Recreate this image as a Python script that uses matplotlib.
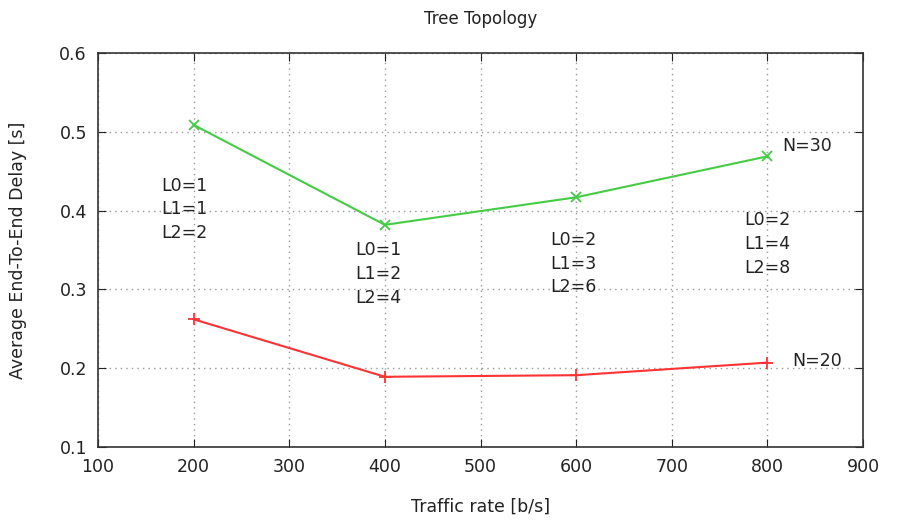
import matplotlib
matplotlib.use("Agg")
import matplotlib.pyplot as plt

rates = [200, 400, 600, 800]
n30 = [0.509, 0.382, 0.417, 0.469]
n20 = [0.262, 0.189, 0.191, 0.207]
level_labels = ["L0=1\nL1=1\nL2=2", "L0=1\nL1=2\nL2=4", "L0=2\nL1=3\nL2=6", "L0=2\nL1=4\nL2=8"]
level_pos = [(166, 0.443), (369, 0.361), (573, 0.374), (776, 0.399)]
xticks = [100, 200, 300, 400, 500, 600, 700, 800, 900]
yticks = [0.1, 0.2, 0.3, 0.4, 0.5, 0.6]

plt.rcParams['font.family'] = ['DejaVu Sans']
fig = plt.figure(figsize=(8.99, 5.22), dpi=100)
ax = fig.add_axes([0.109, 0.144, 0.851, 0.754])

ax.plot(rates, n30, color='#44cc44', marker='x', markersize=7, linewidth=1.5, markeredgewidth=1.3)
ax.plot(rates, n20, color='#ff3333', marker='+', markersize=8, linewidth=1.5, markeredgewidth=1.3)

for lab, (x, y) in zip(level_labels, level_pos):
    ax.text(x, y, lab, ha='left', va='top', fontsize=12.5, linespacing=1.4, color='#222222')
ax.text(815, 0.482, "N=30", ha='left', va='center', fontsize=12.5, color='#222222')
ax.text(826, 0.209, "N=20", ha='left', va='center', fontsize=12.5, color='#222222')

ax.set_xlim(100, 900)
ax.set_ylim(0.1, 0.6)
ax.set_xticks(xticks)
ax.set_yticks(yticks)
ax.set_yticklabels([f"{v:.1f}" for v in yticks])
ax.tick_params(direction='in', top=True, right=True, labelsize=12.5, length=6, pad=8, colors='#222222')
ax.grid(True, linestyle=(0, (1, 3)), color='#999999', linewidth=1)
for s in ax.spines.values():
    s.set_linewidth(1.2)
    s.set_color('#333333')
ax.set_xlabel("Traffic rate [b/s]", fontsize=12.5, labelpad=16, color='#222222')
ax.set_ylabel("Average End-To-End Delay [s]", fontsize=12.5, labelpad=23, color='#222222')
ax.set_title("Tree Topology", fontsize=12, pad=21, color='#222222')

fig.savefig("out.png", dpi=100)
